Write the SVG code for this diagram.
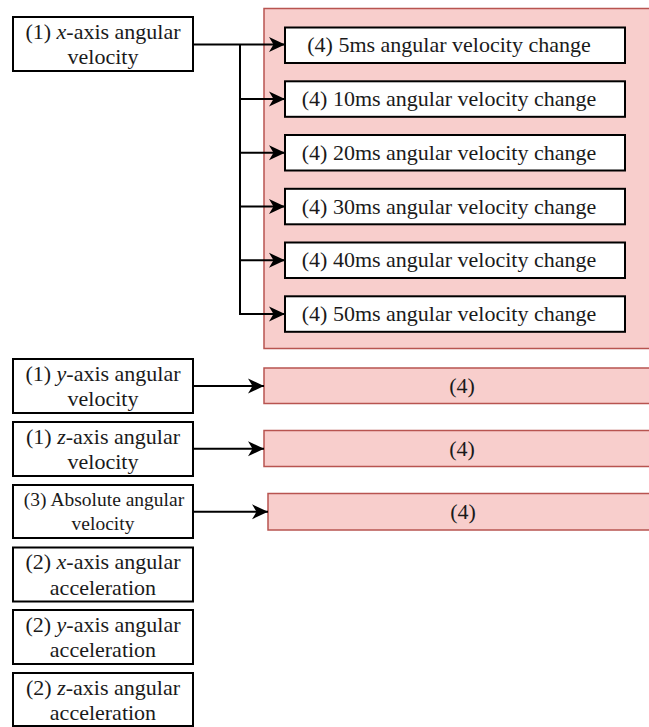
<svg xmlns="http://www.w3.org/2000/svg" width="649" height="727" viewBox="0 0 649 727" font-family="'Liberation Serif', 'DejaVu Serif', serif">
  <style>
    text { font-family: 'Liberation Serif', 'DejaVu Serif', serif; font-size: 22px; fill: #1a1a1a; text-anchor: middle; }
    .box { fill: #ffffff; stroke: #000000; stroke-width: 2; }
    .group { fill: #f8cecc; stroke: #b85450; stroke-width: 1.5; }
    .edge { fill: none; stroke: #000000; stroke-width: 2; }
    .small { font-size: 19.5px; }
  </style>
  <defs>
    <marker id="arrow" markerUnits="userSpaceOnUse" markerWidth="18" markerHeight="16" refX="16" refY="8" orient="auto">
      <path d="M16,8 L0,0.5 L4.5,8 L0,15.5 Z" fill="#000000"/>
    </marker>
  </defs>

  <!-- container for the x-axis change features -->
  <g id="x-change-group">
    <rect class="group" x="264" y="8.5" width="400" height="340"/>
  </g>
  <g id="x-5ms">
    <rect class="box" x="285" y="27.5" width="340" height="35.5"/>
    <text x="449" y="52.3">(4) 5ms angular velocity change</text>
  </g>
  <g id="x-10ms">
    <rect class="box" x="285" y="81.3" width="340" height="35.5"/>
    <text x="449" y="106">(4) 10ms angular velocity change</text>
  </g>
  <g id="x-20ms">
    <rect class="box" x="285" y="135" width="340" height="35.5"/>
    <text x="449" y="159.8">(4) 20ms angular velocity change</text>
  </g>
  <g id="x-30ms">
    <rect class="box" x="285" y="188.8" width="340" height="35.5"/>
    <text x="449" y="213.5">(4) 30ms angular velocity change</text>
  </g>
  <g id="x-40ms">
    <rect class="box" x="285" y="242.5" width="340" height="35.5"/>
    <text x="449" y="267.3">(4) 40ms angular velocity change</text>
  </g>
  <g id="x-50ms">
    <rect class="box" x="285" y="296.3" width="340" height="35.5"/>
    <text x="449" y="321">(4) 50ms angular velocity change</text>
  </g>

  <!-- collapsed change features -->
  <g id="y-change">
    <rect class="group" x="264" y="368" width="400" height="35.5"/>
    <text x="462" y="392.8">(4)</text>
  </g>
  <g id="z-change">
    <rect class="group" x="264" y="430.5" width="400" height="36"/>
    <text x="462" y="455.5">(4)</text>
  </g>
  <g id="abs-change">
    <rect class="group" x="268" y="493.5" width="400" height="36.5"/>
    <text x="463" y="518.8">(4)</text>
  </g>

  <!-- source features -->
  <g id="x-vel">
    <rect class="box" x="13" y="17" width="180" height="54"/>
    <text x="103" y="38.8">(1) <tspan font-style="italic">x</tspan>-axis angular</text>
    <text x="103" y="64.3">velocity</text>
  </g>
  <g id="y-vel">
    <rect class="box" x="13" y="359" width="180" height="54"/>
    <text x="103" y="380.8">(1) <tspan font-style="italic">y</tspan>-axis angular</text>
    <text x="103" y="406.3">velocity</text>
  </g>
  <g id="z-vel">
    <rect class="box" x="13" y="422" width="180" height="54"/>
    <text x="103" y="443.8">(1) <tspan font-style="italic">z</tspan>-axis angular</text>
    <text x="103" y="469.3">velocity</text>
  </g>
  <g id="abs-vel">
    <rect class="box" x="13" y="485" width="180" height="53"/>
    <text class="small" x="104" y="505.5">(3) Absolute angular</text>
    <text class="small" x="103" y="530">velocity</text>
  </g>
  <g id="x-acc">
    <rect class="box" x="13" y="547.5" width="180" height="54"/>
    <text x="103" y="569.3">(2) <tspan font-style="italic">x</tspan>-axis angular</text>
    <text x="103" y="594.8">acceleration</text>
  </g>
  <g id="y-acc">
    <rect class="box" x="13" y="610" width="180" height="54"/>
    <text x="103" y="631.8">(2) <tspan font-style="italic">y</tspan>-axis angular</text>
    <text x="103" y="657.3">acceleration</text>
  </g>
  <g id="z-acc">
    <rect class="box" x="13" y="673" width="180" height="53"/>
    <text x="103" y="694.8">(2) <tspan font-style="italic">z</tspan>-axis angular</text>
    <text x="103" y="720.3">acceleration</text>
  </g>

  <!-- connectors -->
  <g id="edges">
    <path class="edge" d="M193,44.5 H285" marker-end="url(#arrow)"/>
    <path class="edge" d="M240,44.5 V314 H285" marker-end="url(#arrow)"/>
    <path class="edge" d="M240,99 H285" marker-end="url(#arrow)"/>
    <path class="edge" d="M240,152.8 H285" marker-end="url(#arrow)"/>
    <path class="edge" d="M240,206.5 H285" marker-end="url(#arrow)"/>
    <path class="edge" d="M240,260.3 H285" marker-end="url(#arrow)"/>
    <path class="edge" d="M193,386 H264" marker-end="url(#arrow)"/>
    <path class="edge" d="M193,448.8 H264" marker-end="url(#arrow)"/>
    <path class="edge" d="M193,511.8 H268" marker-end="url(#arrow)"/>
  </g>
</svg>
